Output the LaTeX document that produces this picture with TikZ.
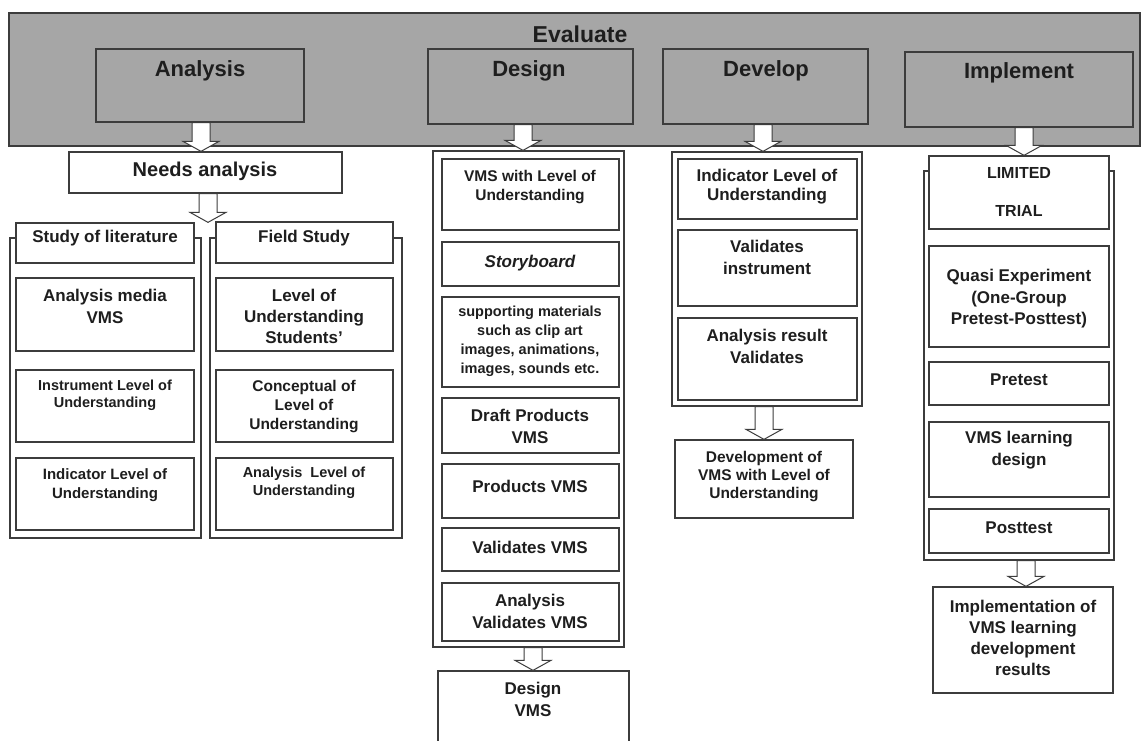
\documentclass[tikz,border=0pt]{standalone}
\usepackage{fontspec}
\setmainfont{Liberation Sans}
\usetikzlibrary{fit,calc}
\definecolor{lc}{HTML}{3C3C3C}
\definecolor{bannergray}{HTML}{A6A6A6}
\definecolor{tc}{HTML}{1E1E1E}
\newcommand\bxn[6][bx]{\node[#1, fit={(#3,#4) (#5,#6)}] (#2) {};}
\newcommand\barrow[3]{\draw[arrst] let \p1=(#2.south), \p2=(#3.north) in
  (#1pt-9pt,\y1) -- (#1pt+9pt,\y1) -- (#1pt+9pt,\y2+10pt) -- (#1pt+18pt,\y2+10pt)
  -- (#1pt,\y2) -- (#1pt-18pt,\y2+10pt) -- (#1pt-9pt,\y2+10pt) -- cycle;}
\begin{document}
\begin{tikzpicture}[x=1pt,y=-1pt,
  bx/.style={draw=lc, line width=1.3pt, fill=white, inner sep=0pt},
  gx/.style={draw=lc, line width=1.3pt, fill=bannergray, inner sep=0pt},
  arrst/.style={draw=lc, line width=1pt, fill=white},
  txt/.style={align=center, text=tc, inner sep=0pt},
  th/.style={txt, font=\fontsize{22}{26}\selectfont\bfseries},
  tn/.style={txt, font=\fontsize{20}{24}\selectfont\bfseries},
  tl/.style={txt, font=\fontsize{17}{22}\selectfont\bfseries},
  tm/.style={txt, font=\fontsize{15.5}{19}\selectfont\bfseries},
  ts/.style={txt, font=\fontsize{14.5}{18}\selectfont\bfseries}]
\useasboundingbox[fill=white] (0,0) rectangle (1142,740);
\clip (0,0) rectangle (1142,740);

% banner
\bxn[gx]{banner}{9}{13}{1140}{146}
\node[txt, font=\fontsize{23}{27}\selectfont\bfseries] (evalt) at (580,34) {Evaluate};
\bxn[gx]{anal}{96}{49}{304}{122}
\node[th] (analt) at (200,71) {Analysis};
\bxn[gx]{desg}{428}{49}{633}{124}
\node[th] (desgt) at (529,71) {Design};
\bxn[gx]{devl}{663}{49}{868}{124}
\node[th] (devlt) at (766,71) {Develop};
\bxn[gx]{impl}{905}{52}{1133}{127}
\node[th] (implt) at (1019,73) {Implement};

% analysis column
\bxn{needs}{69}{152}{342}{193}
\node[tn] (needst) at (205,171) {Needs analysis};

\bxn{litfr}{10}{238}{201}{538}
\bxn{lithd}{16}{223}{194}{263}
\node[tl] (lithdt) at (105,238) {Study of literature};
\bxn{litA}{16}{278}{194}{351}
\node[tl] (litAt) at (105,306) {Analysis media\\VMS};
\bxn{litB}{16}{370}{194}{442}
\node[ts, font=\fontsize{14.5}{17}\selectfont\bfseries] (litBt) at (105,395) {Instrument Level of\\Understanding};
\bxn{litC}{16}{458}{194}{530}
\node[ts, font=\fontsize{15}{19}\selectfont\bfseries] (litCt) at (105,485) {Indicator Level of\\Understanding};

\bxn{fldfr}{210}{238}{402}{538}
\bxn{fldhd}{216}{222}{393}{263}
\node[tl] (fldhdt) at (304,238) {Field Study};
\bxn{fldA}{216}{278}{393}{351}
\node[tl, font=\fontsize{17}{21}\selectfont\bfseries] (fldAt) at (304,316) {Level of\\Understanding\\Students'};
\bxn{fldB}{216}{370}{393}{442}
\node[tm] (fldBt) at (304,407) {Conceptual of\\Level of\\Understanding};
\bxn{fldC}{216}{458}{393}{530}
\node[ts] (fldCt) at (304,483) {Analysis~ Level of\\Understanding};

% design column
\bxn{desfr}{433}{151}{624}{647}
\bxn{desA}{442}{159}{619}{230}
\node[tm] (desAt) at (530,187) {VMS with Level of\\Understanding};
\bxn{desB}{442}{242}{619}{286}
\node[txt, font=\fontsize{17}{22}\selectfont\bfseries\itshape] (desBt) at (530,263) {Storyboard};
\bxn{desC}{442}{297}{619}{387}
\node[ts, font=\fontsize{14.5}{19}\selectfont\bfseries] (desCt) at (530,341) {supporting materials\\such as clip art\\images, animations,\\images, sounds etc.};
\bxn{desD}{442}{398}{619}{453}
\node[tl] (desDt) at (530,426) {Draft Products\\VMS};
\bxn{desE}{442}{464}{619}{518}
\node[tl] (desEt) at (530,486) {Products VMS};
\bxn{desF}{442}{528}{619}{571}
\node[tl] (desFt) at (530,547) {Validates VMS};
\bxn{desG}{442}{583}{619}{641}
\node[tl] (desGt) at (530,611) {Analysis\\Validates VMS};
\bxn{desres}{438}{671}{629}{770}
\node[tl] (desrest) at (533,699) {Design\\VMS};

% develop column
\bxn{devfr}{672}{152}{862}{406}
\bxn{devA}{678}{159}{857}{219}
\node[tl, font=\fontsize{17}{19}\selectfont\bfseries] (devAt) at (767,187) {Indicator Level of\\Understanding};
\bxn{devB}{678}{230}{857}{306}
\node[tl] (devBt) at (767,257) {Validates\\instrument};
\bxn{devC}{678}{318}{857}{400}
\node[tl] (devCt) at (767,346) {Analysis result\\Validates};
\bxn{devres}{675}{440}{853}{518}
\node[tm, font=\fontsize{15.5}{18}\selectfont\bfseries] (devrest) at (764,477) {Development of\\VMS with Level of\\Understanding};

% implement column
\bxn{impfr}{924}{171}{1114}{560}
\bxn{imphd}{929}{156}{1109}{229}
\node[tm, font=\fontsize{16}{38}\selectfont\bfseries] (imphdt) at (1019,192) {LIMITED\\TRIAL};
\bxn{impA}{929}{246}{1109}{347}
\node[tl, font=\fontsize{17}{21.5}\selectfont\bfseries] (impAt) at (1019,299) {Quasi Experiment\\(One-Group\\Pretest-Posttest)};
\bxn{impB}{929}{362}{1109}{405}
\node[tl] (impBt) at (1019,380) {Pretest};
\bxn{impC}{929}{422}{1109}{497}
\node[tl] (impCt) at (1019,450) {VMS learning\\design};
\bxn{impD}{929}{509}{1109}{553}
\node[tl] (impDt) at (1019,528) {Posttest};
\bxn{impres}{933}{587}{1113}{693}
\node[tl, font=\fontsize{17}{21}\selectfont\bfseries] (imprest) at (1023,638) {Implementation of\\VMS learning\\development\\results};

% block arrows
\barrow{201}{anal}{needs}
\barrow{523}{desg}{desfr}
\barrow{763}{devl}{devfr}
\barrow{1024}{impl}{imphd}
\barrow{208}{needs}{lithd}
\barrow{533}{desfr}{desres}
\barrow{764}{devfr}{devres}
\barrow{1026}{impfr}{impres}
\end{tikzpicture}
\end{document}
